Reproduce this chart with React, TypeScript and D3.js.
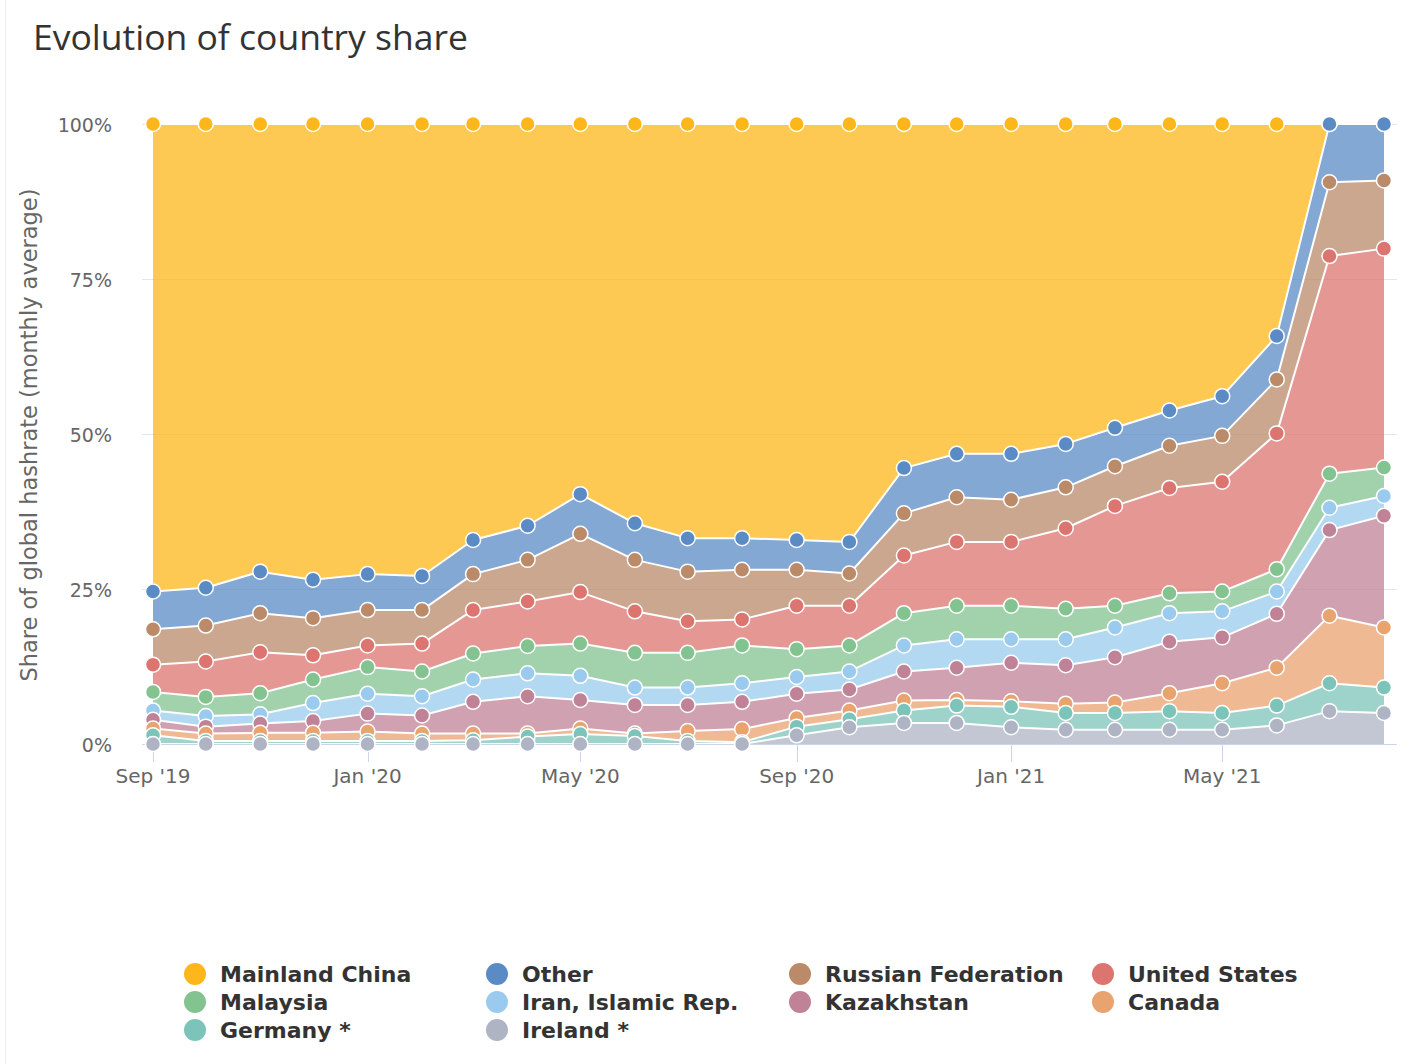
import React, { useEffect, useRef } from "react";
import * as d3 from "d3";

// monthly average share of global hashrate (%), Sep 2019 .. Aug 2021
const months = [
  "2019-09", "2019-10", "2019-11", "2019-12", "2020-01", "2020-02",
  "2020-03", "2020-04", "2020-05", "2020-06", "2020-07", "2020-08",
  "2020-09", "2020-10", "2020-11", "2020-12", "2021-01", "2021-02",
  "2021-03", "2021-04", "2021-05", "2021-06", "2021-07", "2021-08",
];

const mainlandChina = [75.4, 74.8, 72.2, 73.5, 72.6, 72.9, 67.1, 64.8, 59.7, 64.4, 66.8, 66.8, 67.1, 67.4, 55.5, 53.2, 53.2, 51.6, 49.0, 46.2, 43.9, 34.2, 0, 0];
const other = [6.1, 6.1, 6.7, 6.2, 5.8, 5.5, 5.5, 5.5, 6.4, 5.9, 5.4, 5.1, 4.8, 5.1, 7.3, 7.0, 7.4, 7.0, 6.2, 5.7, 6.4, 7.0, 9.4, 9.1];
const russianFederation = [5.7, 5.8, 6.3, 6.0, 5.7, 5.4, 5.8, 6.7, 9.4, 8.3, 8.0, 8.0, 5.8, 5.2, 6.8, 7.2, 6.8, 6.6, 6.4, 6.8, 7.4, 8.7, 11.9, 11.0];
const unitedStates = [4.4, 5.7, 6.6, 3.9, 3.5, 4.5, 7.0, 7.2, 8.3, 6.7, 5.1, 4.2, 7.0, 6.4, 9.3, 10.3, 10.3, 13.0, 16.1, 17.0, 17.7, 21.9, 35.1, 35.3];
const malaysia = [3.0, 3.1, 3.4, 3.8, 4.3, 4.0, 4.2, 4.4, 5.2, 5.6, 5.6, 6.1, 4.5, 4.2, 5.2, 5.4, 5.4, 4.9, 3.5, 3.2, 3.2, 3.6, 5.5, 4.6];
const iran = [1.5, 1.7, 1.5, 2.9, 3.2, 3.1, 3.6, 3.7, 3.9, 2.8, 2.8, 3.0, 2.7, 2.9, 4.2, 4.6, 3.8, 4.2, 4.8, 4.6, 4.2, 3.6, 3.6, 3.2];
const kazakhstan = [1.4, 1.1, 1.5, 1.9, 2.9, 2.9, 5.1, 6.0, 4.6, 4.6, 4.2, 4.4, 3.9, 3.4, 4.7, 5.2, 6.2, 6.2, 7.3, 8.3, 7.4, 8.7, 13.8, 18.0];
const canada = [1.1, 1.2, 1.3, 1.3, 1.5, 1.2, 1.1, 0.5, 0.9, 0.4, 1.6, 2.1, 1.4, 1.4, 1.6, 0.9, 0.9, 1.5, 1.7, 2.9, 4.8, 6.1, 10.9, 9.7];
const germany = [1.4, 0.5, 0.5, 0.5, 0.5, 0.5, 0.6, 1.2, 1.6, 1.3, 0.5, 0.3, 1.4, 1.3, 2.0, 2.8, 3.3, 2.7, 2.7, 3.0, 2.7, 3.2, 4.5, 4.1];
const ireland = [0, 0, 0, 0, 0, 0, 0, 0, 0, 0, 0, 0, 1.4, 2.7, 3.4, 3.4, 2.7, 2.3, 2.3, 2.3, 2.3, 3.0, 5.3, 5.0];

const yTicks = [0, 0.25, 0.5, 0.75, 1];

// legend order (also draw order)
const series = [
  { key: "Mainland China", values: mainlandChina, color: "#FDB71A" },
  { key: "Other", values: other, color: "#5B8BC5" },
  { key: "Russian Federation", values: russianFederation, color: "#BA8A69" },
  { key: "United States", values: unitedStates, color: "#DC7470" },
  { key: "Malaysia", values: malaysia, color: "#83C390" },
  { key: "Iran, Islamic Rep.", values: iran, color: "#9ACBEE" },
  { key: "Kazakhstan", values: kazakhstan, color: "#C08297" },
  { key: "Canada", values: canada, color: "#E9A36F" },
  { key: "Germany *", values: germany, color: "#7CC4B9" },
  { key: "Ireland *", values: ireland, color: "#AEB4C4" },
];

const W = 1422;
const H = 1064;
const FONT = "'DejaVu Sans', sans-serif";

export default function App() {
  const svgRef = useRef<SVGSVGElement | null>(null);

  useEffect(() => {
    const svg = d3.select(svgRef.current);
    svg.selectAll("*").remove();

    const parse = d3.utcParse("%Y-%m");
    const rows = months.map((m, i) => {
      const row: any = { date: parse(m) };
      series.forEach((s) => (row[s.key] = s.values[i]));
      return row;
    });

    const plotLeft = 142;
    const plotRight = 1397;

    const x = d3
      .scaleUtc()
      .domain(d3.extent(rows, (d) => d.date as Date) as [Date, Date])
      .range([153, 1384]);

    const y = d3.scaleLinear().domain([0, 1]).range([744, 124]);

    // stack bottom -> top is the reverse of legend order
    const stackKeys = series.map((s) => s.key).reverse();
    const stacked = d3
      .stack<any>()
      .keys(stackKeys)
      .offset(d3.stackOffsetExpand)(rows);
    const byKey = new Map(stacked.map((l) => [l.key, l]));

    svg.append("rect").attr("width", W).attr("height", H).attr("fill", "#fff");
    svg
      .append("line")
      .attr("x1", 5.5)
      .attr("x2", 5.5)
      .attr("y1", 0)
      .attr("y2", H)
      .attr("stroke", "#efefef");

    // Title
    svg
      .append("text")
      .attr("x", 33)
      .attr("y", 50)
      .attr("font-family", "'Open Sans', sans-serif")
      .attr("font-size", 35.5)
      .attr("fill", "#333")
      .text("Evolution of country share");

    // Grid + y labels
    yTicks.forEach((t) => {
      svg
        .append("line")
        .attr("x1", plotLeft)
        .attr("x2", plotRight)
        .attr("y1", y(t) + 0.5)
        .attr("y2", y(t) + 0.5)
        .attr("stroke", "#e6e6e6");
      svg
        .append("text")
        .attr("x", 112)
        .attr("y", y(t) + 8)
        .attr("text-anchor", "end")
        .attr("font-family", FONT)
        .attr("font-size", 19)
        .attr("fill", "#666")
        .text(d3.format(".0%")(t));
    });

    // Y axis title
    svg
      .append("text")
      .attr("transform", `translate(37,435) rotate(-90)`)
      .attr("text-anchor", "middle")
      .attr("font-family", FONT)
      .attr("font-size", 22.5)
      .attr("fill", "#666")
      .text("Share of global hashrate (monthly average)");

    const area = d3
      .area<any>()
      .x((d) => x(d.data.date))
      .y0((d) => y(d[0]))
      .y1((d) => y(d[1]));

    const line = d3
      .line<any>()
      .x((d) => x(d.data.date))
      .y((d) => y(d[1]));

    // Areas
    series.forEach((s) => {
      svg
        .append("path")
        .datum(byKey.get(s.key)!)
        .attr("fill", s.color)
        .attr("fill-opacity", 0.75)
        .attr("d", area);
    });

    // White top lines
    series.forEach((s) => {
      svg
        .append("path")
        .datum(byKey.get(s.key)!)
        .attr("fill", "none")
        .attr("stroke", "#fff")
        .attr("stroke-width", 2)
        .attr("stroke-linejoin", "round")
        .attr("d", line);
    });

    // X axis
    const xTicks = d3.utcMonth.every(4)!.range(
      x.domain()[0],
      d3.utcDay.offset(x.domain()[1], 1)
    );
    svg
      .append("line")
      .attr("x1", plotLeft)
      .attr("x2", plotRight)
      .attr("y1", 744.5)
      .attr("y2", 744.5)
      .attr("stroke", "#ccd6eb");
    xTicks.forEach((t) => {
      svg
        .append("line")
        .attr("x1", Math.round(x(t)) + 0.5)
        .attr("x2", Math.round(x(t)) + 0.5)
        .attr("y1", 745)
        .attr("y2", 762)
        .attr("stroke", "#ccd6eb");
      svg
        .append("text")
        .attr("x", x(t))
        .attr("y", 783)
        .attr("text-anchor", "middle")
        .attr("font-family", FONT)
        .attr("font-size", 20)
        .attr("fill", "#666")
        .text(d3.utcFormat("%b '%y")(t));
    });

    // Markers
    series.forEach((s) => {
      svg
        .append("g")
        .selectAll("circle")
        .data(byKey.get(s.key)!)
        .join("circle")
        .attr("cx", (d: any) => x(d.data.date))
        .attr("cy", (d: any) => y(d[1]))
        .attr("r", 7.5)
        .attr("fill", s.color)
        .attr("stroke", "#fff")
        .attr("stroke-width", 1.5);
    });

    // Legend
    const colX = [195, 497, 800, 1103];
    const rowY = [974, 1002, 1030];
    series.forEach((s, i) => {
      const g = svg
        .append("g")
        .attr("transform", `translate(${colX[i % 4]},${rowY[Math.floor(i / 4)]})`);
      g.append("circle").attr("r", 11).attr("fill", s.color);
      g.append("text")
        .attr("x", 25)
        .attr("y", 8)
        .attr("font-family", FONT)
        .attr("font-weight", "bold")
        .attr("font-size", 22)
        .attr("fill", "#333")
        .text(s.key);
    });
  }, []);

  return (
    <div style={{ position: "absolute", left: 0, top: 0 }}>
      <svg ref={svgRef} width={W} height={H} style={{ display: "block" }} />
    </div>
  );
}
